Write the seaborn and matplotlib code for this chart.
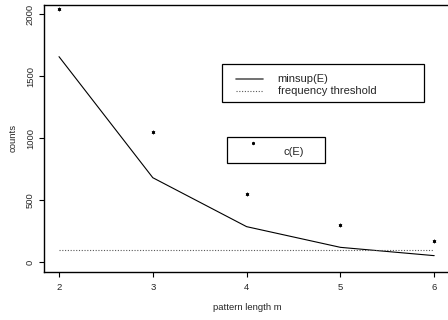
import matplotlib
matplotlib.use("Agg")
import matplotlib.pyplot as plt
import seaborn as sns
import pandas as pd
from matplotlib.patches import Rectangle
from matplotlib.lines import Line2D

pattern_length = [2, 3, 4, 5, 6]
minsup = [1657, 680, 285, 118, 51]
c_E = [2045, 1047, 546, 296, 167]
threshold = 100
y_ticks = [0, 500, 1000, 1500, 2000]
x_ticks = [2, 3, 4, 5, 6]

sns.set_theme(style="white")
plt.rcParams['font.family'] = ['Liberation Sans', 'DejaVu Sans']

W, H = 448, 320
fig = plt.figure(figsize=(W / 100, H / 100), dpi=100)
ax = fig.add_axes([44 / W, (H - 272) / H, (450 - 44) / W, (272 - 4.5) / H])

df = pd.DataFrame({"m": pattern_length, "minsup": minsup, "c": c_E})
sns.lineplot(data=df, x="m", y="minsup", color="black", lw=0.8, ax=ax)
ax.plot([pattern_length[0], pattern_length[-1]], [threshold, threshold],
        color="0.35", lw=0.8, linestyle=(0, (1, 1.5)))
sns.scatterplot(data=df, x="m", y="c", marker=(6, 2, 0), s=5, color="black",
                linewidth=0.5, ax=ax)

ax.set_xlim(1.84, 1.84 + 406 / 93.8)
ax.set_ylim(-81, 2078)
ax.set_xticks(x_ticks)
ax.set_yticks(y_ticks)
ax.set_xticklabels([str(v) for v in x_ticks], fontsize=6.8)
ax.set_yticklabels([str(v) for v in y_ticks], fontsize=6.8, rotation=90, va="center")
ax.tick_params(axis="both", direction="out", length=3.6, width=0.8, color="black",
               bottom=True, left=True)
ax.tick_params(axis="x", pad=4.0)
ax.tick_params(axis="y", pad=3.0)
for s in ax.spines.values():
    s.set_color("black")
    s.set_linewidth(1.0)
ax.set_xlabel("pattern length m", fontsize=6.8, labelpad=8)
ax.set_ylabel("counts", fontsize=6.8, labelpad=6)

def fx(px):
    return px / W

def fy(py):
    return (H - py) / H

# legend 1
fig.add_artist(Rectangle((fx(221.7), fy(102.3)), fx(424.3) - fx(221.7), fy(64.3) - fy(102.3),
                         transform=fig.transFigure, fill=False, edgecolor="black", lw=0.9))
fig.add_artist(Line2D([fx(236), fx(263)], [fy(78.7), fy(78.7)], transform=fig.transFigure,
                      color="0.35", lw=1.2))
fig.add_artist(Line2D([fx(236), fx(263)], [fy(90.7), fy(90.7)], transform=fig.transFigure,
                      color="0.35", lw=0.8, linestyle=(0, (1, 1.5))))
fig.text(fx(277.7), fy(78.7), "minsup(E)", fontsize=8, va="center", ha="left")
fig.text(fx(277.7), fy(90.7), "frequency threshold", fontsize=8, va="center", ha="left")

# legend 2
fig.add_artist(Rectangle((fx(227.3), fy(163.3)), fx(325.3) - fx(227.3), fy(137.3) - fy(163.3),
                         transform=fig.transFigure, fill=False, edgecolor="black", lw=0.9))
fig.add_artist(Line2D([fx(253)], [fy(143.3)], transform=fig.transFigure, marker=(6, 2, 0),
                      markersize=2.3, markeredgewidth=0.5, color="black", linestyle="none"))
fig.text(fx(283.7), fy(151.7), "c(E)", fontsize=8, va="center", ha="left")

fig.savefig("out.png", dpi=100)
